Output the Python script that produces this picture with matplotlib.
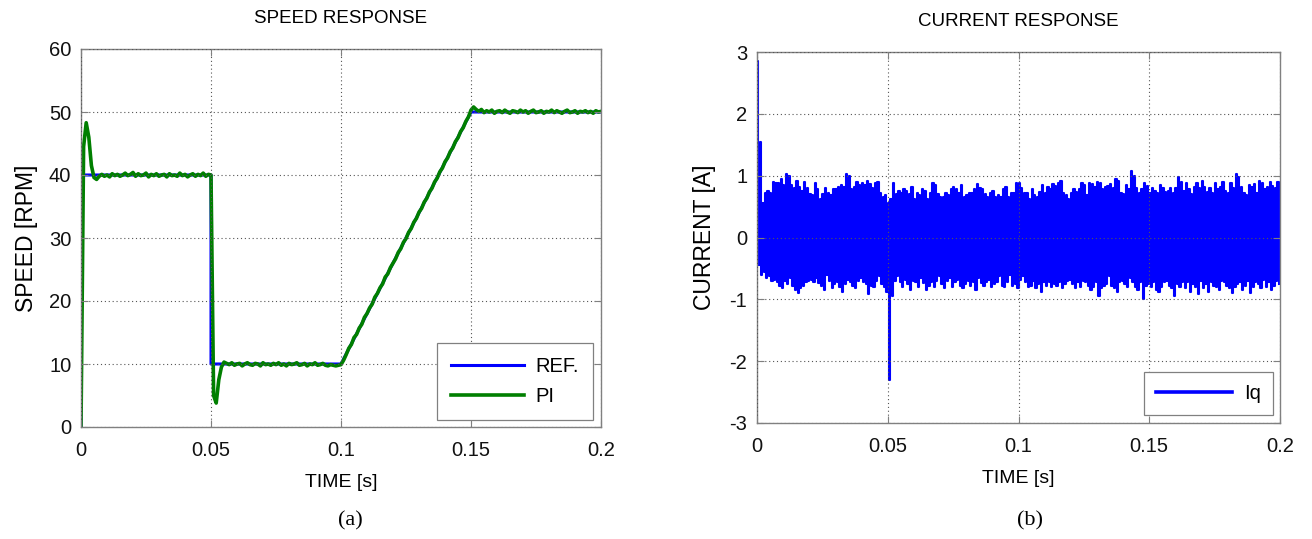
import numpy as np
import matplotlib
matplotlib.use("Agg")
import matplotlib.pyplot as plt

# ---------------- data ----------------
ref_t = [0.0, 0.0, 0.05, 0.05, 0.10, 0.15, 0.20]
ref_v = [0, 40, 40, 10, 10, 50, 50]

dt = 0.001
pi_v = [
    0.0, 44.5, 48.3, 46.0, 41.5, 39.6, 39.3, 39.8,
    40.1, 39.8, 40.0, 39.7, 40.2, 39.9, 40.1, 39.8, 40.0, 40.3,
    39.9, 40.1, 40.4, 39.8, 40.2, 39.9, 40.0, 40.3, 39.7, 40.1,
    39.9, 40.2, 39.8, 40.0, 40.1, 39.7, 40.2, 39.9, 40.0, 39.8,
    40.3, 39.9, 40.1, 39.7, 40.0, 40.2, 39.8, 40.1, 39.9, 40.3,
    39.8, 40.1,
    40.0, 5.0, 3.8, 7.5, 9.5, 10.3,
    10.1, 9.9, 10.2, 9.8, 10.0, 10.1, 9.7, 10.0, 10.2, 9.9,
    9.8, 10.1, 10.0, 9.7, 10.2, 9.9, 10.0, 9.8, 10.1, 9.9,
    10.2, 9.8, 10.0, 9.7, 10.1, 9.9, 10.0, 10.2, 9.8, 9.9,
    10.1, 9.7, 10.0, 9.9, 10.2, 9.8, 9.9, 10.1, 9.8, 9.7,
    9.9, 9.8, 9.7, 9.8,
    9.9,
    10.6, 11.5, 12.5, 13.1, 14.2, 14.7, 15.7, 16.3, 17.4, 18.0,
    18.9, 19.5, 20.6, 21.2, 22.1, 22.7, 23.8, 24.3, 25.3, 26.0,
    26.7, 27.7, 28.3, 29.3, 29.9, 30.9, 31.5, 32.5, 33.1, 34.1,
    34.7, 35.7, 36.3, 37.3, 37.9, 38.9, 39.5, 40.5, 41.1, 42.1,
    42.7, 43.7, 44.3, 45.3, 45.9, 46.9, 47.5, 48.5, 49.2, 50.3,
    50.8, 50.4,
    50.1, 50.4, 49.9, 50.2, 50.0, 50.3, 49.8, 50.1, 50.2, 49.9,
    50.3, 50.0, 49.8, 50.2, 50.1, 49.9, 50.3, 50.0, 50.2, 49.8,
    50.1, 50.3, 49.9, 50.0, 50.2, 49.8, 50.1, 50.0, 50.3, 49.9,
    50.2, 50.0, 49.8, 50.1, 50.3, 49.9, 50.0, 50.2, 49.8, 50.1,
    50.0, 50.2, 49.9, 50.1, 49.8, 50.2, 50.0, 50.1,
]

iq_upper = [
    2.85, 1.55, 0.55, 0.72, 0.75, 0.72, 0.9, 0.88, 0.88, 0.95, 0.85, 1.03, 1.0, 0.85, 0.8, 0.92, 0.82, 0.75, 0.9, 0.8,
    0.7, 0.68, 0.88, 0.78, 0.62, 0.7, 0.8, 0.72, 0.68, 0.78, 0.78, 0.82, 0.85, 0.82, 1.02, 1.0, 0.78, 0.82, 0.9, 0.85,
    0.88, 0.85, 0.92, 0.86, 0.8, 0.88, 0.9, 0.72, 0.65, 0.68, 0.55, 0.62, 0.88, 0.7, 0.75, 0.72, 0.78, 0.75, 0.7, 0.82,
    0.62, 0.72, 0.68, 0.78, 0.75, 0.62, 0.72, 0.88, 0.85, 0.7, 0.66, 0.65, 0.72, 0.68, 0.78, 0.82, 0.78, 0.72, 0.85, 0.66,
    0.68, 0.72, 0.72, 0.78, 0.86, 0.8, 0.78, 0.7, 0.65, 0.72, 0.75, 0.65, 0.68, 0.65, 0.78, 0.82, 0.65, 0.72, 0.72, 0.88,
    0.88, 0.8, 0.72, 0.72, 0.62, 0.78, 0.68, 0.65, 0.74, 0.85, 0.72, 0.82, 0.78, 0.86, 0.84, 0.88, 0.92, 0.72, 0.68, 0.62,
    0.72, 0.78, 0.74, 0.78, 0.88, 0.85, 0.68, 0.88, 0.86, 0.82, 0.9, 0.88, 0.78, 0.82, 0.84, 0.86, 0.8, 0.95, 0.92, 0.72,
    0.7, 0.85, 0.78, 1.07, 1.0, 0.8, 0.72, 0.78, 0.88, 0.84, 0.72, 0.8, 0.75, 0.72, 0.85, 0.8, 0.74, 0.75, 0.8, 0.72,
    0.8, 0.98, 0.9, 0.75, 0.88, 0.78, 0.7, 0.82, 0.88, 0.8, 0.92, 0.82, 0.74, 0.8, 0.72, 0.88, 0.78, 0.82, 0.9, 0.76,
    0.72, 0.88, 0.8, 1.03, 0.98, 0.82, 0.72, 0.68, 0.85, 0.82, 0.86, 0.72, 0.92, 0.88, 0.78, 0.82, 0.9, 0.84, 0.8, 0.9,
]
iq_lower = [
    -0.45, -0.6, -0.55, -0.65, -0.62, -0.7, -0.68, -0.72, -0.78, -0.82, -0.7, -0.75, -0.65, -0.78, -0.85, -0.9, -0.82, -0.78, -0.72, -0.7,
    -0.68, -0.72, -0.66, -0.74, -0.78, -0.85, -0.6, -0.7, -0.82, -0.75, -0.72, -0.8, -0.88, -0.75, -0.68, -0.72, -0.78, -0.82, -0.7, -0.65,
    -0.72, -0.75, -0.92, -0.78, -0.8, -0.7, -0.62, -0.75, -0.8, -0.88, -2.3, -0.95, -0.7, -0.62, -0.72, -0.8, -0.68, -0.75, -0.85, -0.7,
    -0.72, -0.8, -0.66, -0.74, -0.85, -0.78, -0.72, -0.8, -0.7, -0.62, -0.75, -0.82, -0.7, -0.66, -0.8, -0.72, -0.68, -0.78, -0.82, -0.75,
    -0.7, -0.78, -0.72, -0.85, -0.66, -0.74, -0.78, -0.72, -0.68, -0.8, -0.75, -0.72, -0.62, -0.78, -0.8, -0.72, -0.6, -0.78, -0.75, -0.82,
    -0.68, -0.62, -0.72, -0.8, -0.78, -0.7, -0.82, -0.75, -0.88, -0.72, -0.78, -0.72, -0.8, -0.75, -0.78, -0.72, -0.82, -0.75, -0.7, -0.68,
    -0.75, -0.82, -0.72, -0.8, -0.7, -0.72, -0.78, -0.85, -0.8, -0.72, -0.95, -0.82, -0.78, -0.75, -0.62, -0.78, -0.82, -0.88, -0.72, -0.7,
    -0.75, -0.8, -0.65, -0.72, -0.8, -0.85, -0.72, -1.0, -0.78, -0.75, -0.8, -0.72, -0.85, -0.88, -0.8, -0.72, -0.7, -0.78, -0.82, -0.95,
    -0.75, -0.8, -0.72, -0.82, -0.72, -0.88, -0.75, -0.8, -0.92, -0.7, -0.82, -0.75, -0.88, -0.72, -0.78, -0.8, -0.85, -0.7, -0.72, -0.78,
    -0.82, -0.9, -0.8, -0.75, -0.72, -0.85, -0.78, -0.7, -0.9, -0.8, -0.72, -0.75, -0.82, -0.68, -0.8, -0.72, -0.85, -0.78, -0.7, -0.75,
]

x_ticks = [0, 0.05, 0.1, 0.15, 0.2]
x_ticklabels = ["0", "0.05", "0.1", "0.15", "0.2"]
speed_ticks = [0, 10, 20, 30, 40, 50, 60]
iq_ticks = [-3, -2, -1, 0, 1, 2, 3]

# ---------------- derived series ----------------
pi_t = np.arange(len(pi_v)) * dt
n_iq = len(iq_upper)
iq_t = np.empty(2 * n_iq)
iq_t[0::2] = np.arange(n_iq) * dt
iq_t[1::2] = np.arange(n_iq) * dt + dt / 2
iq_v = np.empty(2 * n_iq)
iq_v[0::2] = iq_upper
iq_v[1::2] = iq_lower

# ---------------- style ----------------
plt.rcParams['font.family'] = ['Liberation Sans', 'DejaVu Sans']
plt.rcParams['axes.unicode_minus'] = False
FS_TICK = 14.5
FS_XLABEL = 14
FS_YLABEL = 16.5
FS_TITLE = 13.5
SPINE = '#808080'

fig = plt.figure(figsize=(13.12, 5.39), dpi=100)
ax1 = fig.add_axes([81 / 1312, 1 - 427 / 539, 520 / 1312, 378 / 539])
ax2 = fig.add_axes([757 / 1312, 1 - 423 / 539, 523 / 1312, 371 / 539])


def style(ax):
    for s in ax.spines.values():
        s.set_color(SPINE)
        s.set_linewidth(1.0)
    ax.tick_params(direction='in', top=True, right=True, length=5,
                   color=SPINE, labelsize=FS_TICK, labelcolor='#111111')
    ax.tick_params(axis='x', pad=10)
    ax.tick_params(axis='y', pad=7)
    ax.grid(True, linestyle=(0, (1, 2.5)), color='#555555', linewidth=0.8)
    ax.set_axisbelow(False)


ax1.plot(ref_t, ref_v, color='#0000ff', linewidth=2.2, label='REF.')
ax1.plot(pi_t, pi_v, color='#007f00', linewidth=2.6, label='PI')
ax1.set_xlim(0, 0.2)
ax1.set_ylim(0, 60)
ax1.set_xticks(x_ticks)
ax1.set_xticklabels(x_ticklabels)
ax1.set_yticks(speed_ticks)
style(ax1)
ax1.set_title('SPEED RESPONSE', fontsize=FS_TITLE, pad=19)
ax1.set_xlabel('TIME [s]', fontsize=FS_XLABEL, labelpad=10)
ax1.set_ylabel('SPEED [RPM]', fontsize=FS_YLABEL, labelpad=8)
leg1 = ax1.legend(loc='lower right', bbox_to_anchor=(0.985, 0.018),
                  fontsize=FS_TICK, fancybox=False, framealpha=1,
                  edgecolor=SPINE, handlelength=3.6, handletextpad=0.6,
                  borderpad=0.7, labelspacing=0.55, borderaxespad=0)
leg1.get_frame().set_linewidth(0.9)

ax2.plot(iq_t, iq_v, color='#0000ff', linewidth=1.5, drawstyle='steps-post',
         label='Iq')
ax2.set_xlim(0, 0.2)
ax2.set_ylim(-3, 3)
ax2.set_xticks(x_ticks)
ax2.set_xticklabels(x_ticklabels)
ax2.set_yticks(iq_ticks)
style(ax2)
ax2.set_title('CURRENT RESPONSE', fontsize=FS_TITLE, pad=19)
ax2.set_xlabel('TIME [s]', fontsize=FS_XLABEL, labelpad=10)
ax2.set_ylabel('CURRENT [A]', fontsize=FS_YLABEL, labelpad=10)
leg2 = ax2.legend(loc='lower right', bbox_to_anchor=(0.987, 0.022),
                  fontsize=FS_TICK, fancybox=False, framealpha=1,
                  edgecolor=SPINE, handlelength=3.8, handletextpad=0.6,
                  borderpad=0.6, borderaxespad=0)
leg2.get_frame().set_linewidth(0.9)
for ln in leg2.get_lines():
    ln.set_linewidth(2.6)

fig.text(350 / 1312, 1 - 521 / 539, '(a)', fontsize=16,
         family=['Liberation Serif', 'DejaVu Serif'], ha='center', va='center')
fig.text(1030 / 1312, 1 - 521 / 539, '(b)', fontsize=16,
         family=['Liberation Serif', 'DejaVu Serif'], ha='center', va='center')

fig.savefig('out.png', dpi=100)
